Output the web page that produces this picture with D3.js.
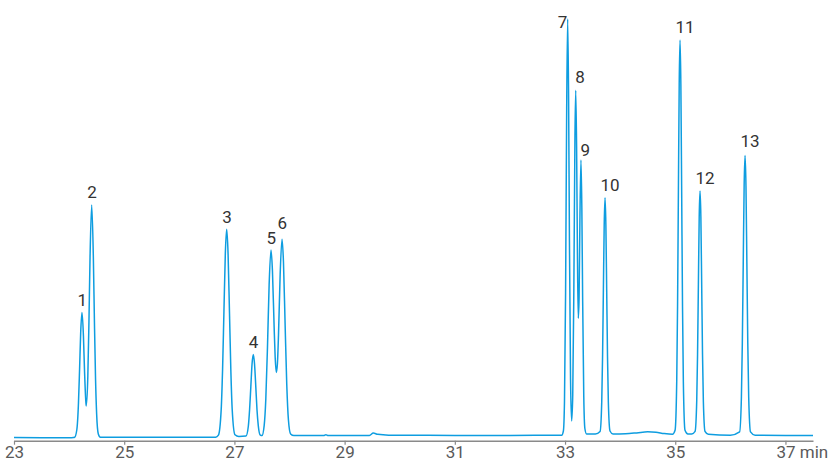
<!DOCTYPE html>
<html>
<head>
<script src="https://d3js.org/d3.v7.min.js"></script>
  <meta charset="utf-8">
  <title>Chromatogram</title>
  <style>
    body { margin: 0; background: #fff; }
    svg { display: block; }
  </style>
</head>
<body>

<svg id="chart" width="830" height="463"></svg>

<script>

	// x ticks (min)
	var xTicks = [23, 25, 27, 29, 31, 33, 35, 37];

	// peak numbers, apex times (min) and apex heights (signal, peak 7 = 100)
	var peakNumbers = [1, 2, 3, 4, 5, 6, 7, 8, 9, 10, 11, 12, 13];
	var peakTimes   = [24.234, 24.41, 26.86, 27.343, 27.664, 27.864, 33.048, 33.194, 33.289, 33.726, 35.087, 35.45, 36.267];
	var peakHeights = [29.9, 55.6, 49.8, 19.9, 44.8, 47.4, 100, 83.0, 66.3, 57.3, 95.0, 58.9, 67.4];

	// trace: [time, signal]
	var trace = [
		[23.00,0.05],[23.5,0.0],[24.0,0.0],[24.08,0.05],
		[24.10,0.1],[24.14,1.9],[24.17,8.3],[24.19,16.3],[24.21,25.0],[24.234,29.9],[24.26,24.3],[24.28,15.9],[24.30,9.5],[24.31,7.6],
		[24.34,14.8],[24.36,27.6],[24.38,43.1],[24.41,55.6],[24.44,43.1],[24.46,27.4],[24.48,13.9],[24.50,5.6],[24.53,0.9],[24.57,0.1],
		[25.5,0.1],[26.6,0.1],
		[26.66,0.1],[26.71,0.6],[26.76,6.7],[26.785,16.2],[26.81,30.2],[26.835,43.9],[26.86,49.8],[26.885,43.9],[26.91,30.2],[26.935,16.2],[26.96,6.7],[27.01,0.7],[27.08,0.3],
		[27.21,0.4],[27.253,2.8],[27.275,6.6],[27.298,12.2],[27.32,17.6],[27.343,19.9],[27.365,17.6],[27.388,12.2],[27.41,6.6],[27.433,2.9],[27.47,0.6],[27.50,0.5],
		[27.54,2.9],[27.57,9.3],[27.60,21.6],[27.63,36.5],[27.664,44.8],[27.69,39.9],[27.72,26.8],[27.74,19.1],[27.76,15.6],[27.78,17.6],[27.80,24.5],
		[27.83,38.9],[27.864,47.4],[27.89,42.0],[27.92,27.1],[27.95,12.7],[27.98,4.3],[28.02,0.9],[28.08,0.5],
		[28.5,0.5],[28.62,0.5],[28.66,0.7],[28.70,0.5],[29.45,0.55],[29.52,1.1],[29.6,0.8],[29.8,0.6],[31.0,0.55],[32.0,0.55],[32.9,0.6],
		[32.94,0.6],[32.97,1.6],[32.99,8.6],[33.01,34.6],[33.03,78.8],[33.048,100],[33.065,80.8],[33.08,47.0],[33.10,13.9],[33.12,4.0],
		[33.14,10.2],[33.16,35.6],[33.18,72.0],[33.194,83.0],[33.21,69.4],[33.225,44.0],[33.24,28.5],[33.255,33.5],[33.27,52.0],
		[33.289,66.3],[33.305,54.9],[33.32,32.6],[33.34,9.9],[33.36,2.2],[33.39,0.9],
		[33.55,0.9],
		[33.636,1.5],[33.666,8.5],[33.681,19.3],[33.696,35.3],[33.711,50.9],[33.726,57.3],[33.741,50.9],[33.756,35.3],[33.771,19.3],[33.786,8.5],[33.816,1.6],[33.87,0.9],
		[34.1,0.95],[34.3,1.15],[34.5,1.4],[34.65,1.3],[34.8,1.0],[34.95,0.85],
		[34.997,1.8],[35.027,13.5],[35.042,31.4],[35.057,58.2],[35.072,84.4],[35.087,95.0],[35.102,84.4],[35.117,58.2],[35.132,31.4],[35.147,13.5],[35.177,1.8],[35.23,0.9],
		[35.30,0.9],[35.36,1.5],[35.39,8.8],[35.405,19.9],[35.42,36.5],[35.435,52.8],[35.45,58.9],[35.465,52.8],[35.48,36.5],[35.495,19.9],[35.51,8.8],[35.54,1.5],[35.60,0.8],
		[36.0,0.6],
		[36.168,1.4],[36.201,9.8],[36.2175,22.6],[36.234,41.6],[36.2505,60.2],[36.267,67.4],[36.2835,60.2],[36.30,41.6],[36.3165,22.6],[36.333,9.8],[36.366,1.4],[36.45,0.6],
		[37.0,0.55],[37.5,0.55]
	];

	var svg = d3.select('#chart');
	var axisY = 440.7;

	var x = d3.scaleLinear().domain([23, 37.5]).range([14, 813]);
	var y = d3.scaleLinear().domain([0, 100]).range([437.7, 19]);

	//the trace
	var line = d3.line()
		.x(function(d) { return x(d[0]); })
		.y(function(d) { return y(d[1]); })
		.curve(d3.curveMonotoneX);

	svg.append('path')
		.datum(trace)
		.attr('d', line)
		.attr('fill', 'none')
		.attr('stroke', '#0e9de0')
		.attr('stroke-width', 1.5)
		.attr('stroke-linejoin', 'round');

	//bottom axis
	var axis = svg.append('g')
		.attr('transform', 'translate(0,' + axisY + ')')
		.call(d3.axisBottom(x).tickValues(xTicks).tickSize(4).tickSizeOuter(0).tickFormat(d3.format('d')));

	axis.select('.domain').attr('stroke', '#8a8a8a').attr('stroke-width', 1.4);
	axis.selectAll('.tick line').attr('stroke', '#8a8a8a').attr('stroke-width', 1.2);
	// baseline kept high enough that the text box stays inside the picture
	axis.selectAll('.tick text')
		.attr('y', 17.7)
		.attr('dy', 0)
		.attr('fill', '#5a5a5a')
		.style('font-family', 'Roboto, sans-serif')
		.style('font-size', '17px');

	// last tick gets the unit, keeping the number centred on its tick
	var last = axis.selectAll('.tick text').filter(function(d) { return d === xTicks[xTicks.length - 1]; });
	var w = last.node().getComputedTextLength();
	last.attr('text-anchor', 'start').attr('x', -w / 2).text(xTicks[xTicks.length - 1] + ' min');

	//peak labels, left edge a little left of the apex
	var nudge = { 6: [0, -3.5], 7: [-5.5, 15.5], 8: [4, -1], 9: [4, 2], 12: [0, -1], 13: [0, -2] };

	svg.selectAll('text.peak')
		.data(peakNumbers)
		.enter().append('text')
			.attr('class', 'peak')
			.attr('x', function(d, i) { return x(peakTimes[i]) - 4.5 + (nudge[d] ? nudge[d][0] : 0); })
			.attr('y', function(d, i) { return y(peakHeights[i]) - 6.5 + (nudge[d] ? nudge[d][1] : 0); })
			.attr('fill', '#333')
			.style('font-family', 'Roboto, sans-serif')
			.style('font-size', '17px')
			.text(function(d) { return d; });

</script>
</body>

</html>
